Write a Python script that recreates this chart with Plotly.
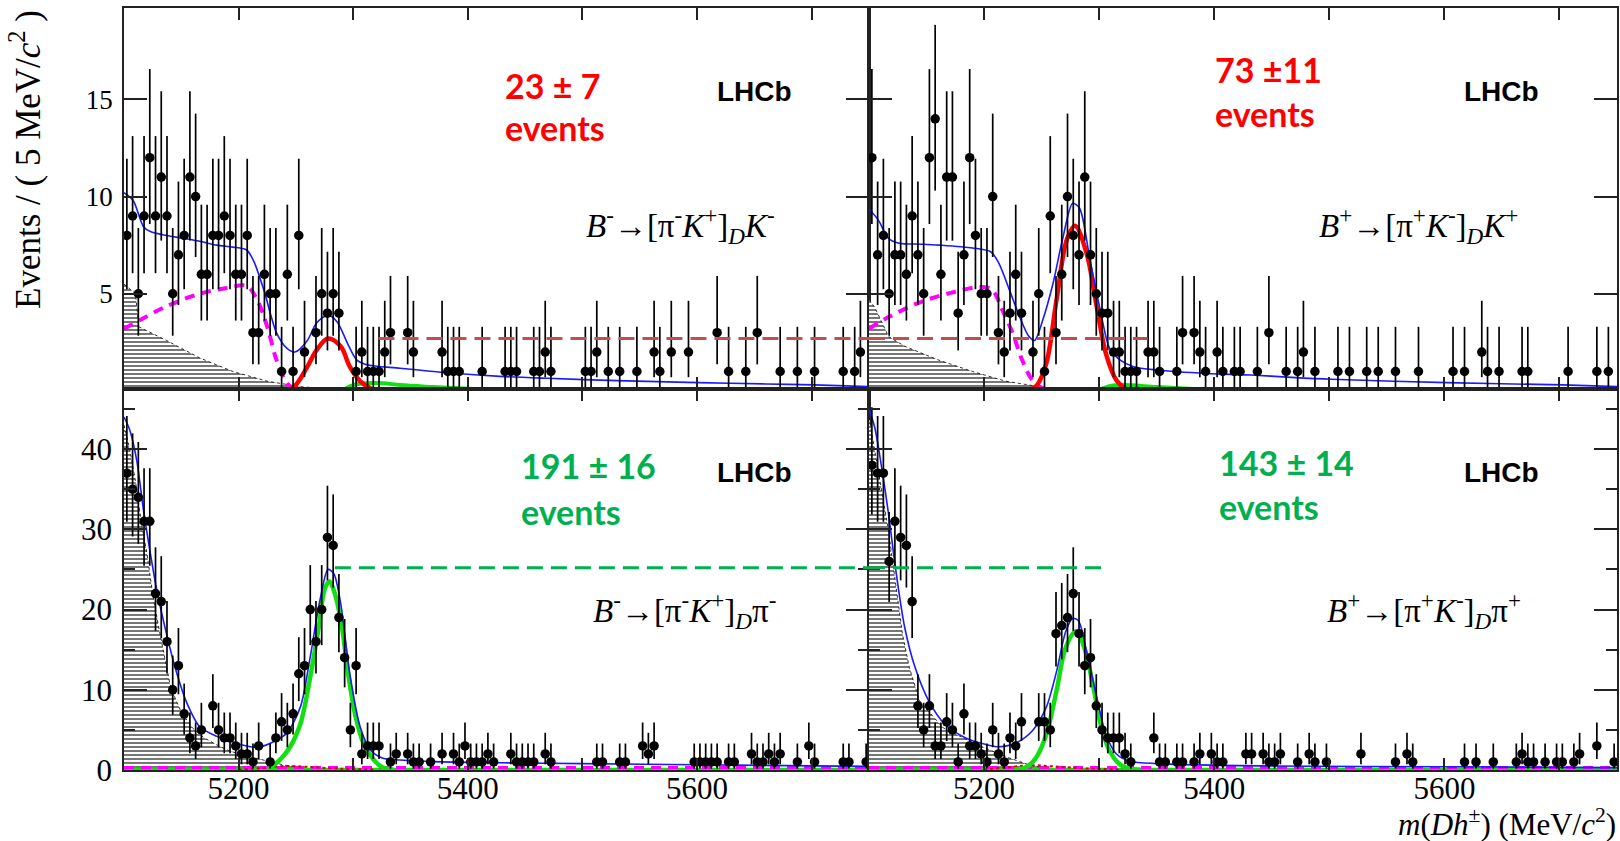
import math
import plotly.graph_objects as go

# ---------------- data ----------------
BIN_LO, BIN_W, NBINS = 5100.0, 5.0, 130

# counts per 5 MeV bin, bins 0..129 (5100-5750 MeV)
counts_TL = [8, 9, 5, 9, 12, 9, 11, 9, 5, 7,
             8, 11, 10, 6, 6, 8, 8, 9, 8, 6,
             6, 8, 3, 3, 6, 5, 5, 1, 6, 1,
             8, 2, 0, 3, 5, 4, 5, 4, 0, 0,
             1, 2, 1, 1, 1, 2, 3, 0, 0, 3,
             2, 0, 0, 0, 0, 2, 1, 1, 1, 0,
             0, 0, 1, 0, 0, 0, 1, 1, 1, 0,
             0, 1, 1, 2, 1, 0, 0, 0, 0, 0,
             1, 1, 2, 0, 1, 0, 1, 0, 0, 1,
             0, 0, 2, 1, 0, 2, 0, 0, 2, 0,
             0, 0, 0, 3, 0, 1, 0, 0, 1, 0,
             3, 0, 0, 0, 1, 0, 0, 1, 0, 0,
             1, 0, 0, 0, 0, 1, 0, 1, 2, 0]
counts_TR = [12, 7, 8, 5, 7, 7, 6, 9, 7, 5,
             12, 14, 6, 11, 11, 4, 7, 12, 8, 5,
             5, 10, 3, 2, 4, 6, 4, 0, 2, 5,
             1, 9, 3, 6, 10, 8, 7, 11, 7, 5,
             4, 4, 2, 2, 1, 1, 1, 0, 2, 2,
             1, 0, 0, 1, 3, 0, 3, 2, 1, 0,
             2, 1, 0, 1, 1, 0, 0, 1, 0, 3,
             0, 0, 1, 0, 1, 2, 0, 1, 0, 0,
             0, 1, 0, 1, 0, 0, 1, 0, 1, 0,
             0, 1, 0, 0, 0, 1, 0, 0, 0, 0,
             0, 1, 0, 1, 0, 0, 2, 1, 0, 1,
             0, 0, 0, 1, 1, 0, 0, 0, 0, 0,
             0, 1, 0, 0, 0, 0, 1, 0, 1, 0]
counts_BL = [37, 35, 34, 31, 31, 22, 21, 16, 10, 13,
             7, 4, 3, 5, 0, 8, 5, 4, 4, 3,
             2, 2, 1, 3, 0, 1, 4, 6, 5, 7,
             12, 13, 20, 16, 20, 29, 28, 19, 14, 5,
             13, 2, 3, 3, 3, 0, 1, 2, 0, 2,
             1, 1, 0, 1, 0, 2, 0, 2, 1, 3,
             1, 1, 1, 2, 1, 0, 0, 2, 1, 1,
             1, 1, 0, 2, 1, 0, 0, 0, 0, 0,
             0, 0, 1, 1, 0, 0, 1, 1, 0, 0,
             3, 2, 3, 0, 0, 0, 0, 0, 0, 1,
             1, 1, 1, 1, 0, 1, 1, 0, 0, 2,
             1, 1, 2, 1, 2, 0, 0, 1, 0, 3,
             1, 0, 0, 0, 0, 1, 1, 0, 0, 1]
counts_BR = [38, 37, 37, 26, 31, 29, 28, 21, 8, 5,
             8, 3, 3, 6, 5, 1, 7, 3, 3, 2,
             1, 5, 2, 1, 4, 3, 6, 0, 0, 6,
             6, 5, 17, 18, 19, 22, 17, 13, 14, 8,
             5, 4, 4, 4, 2, 1, 0, 0, 0, 4,
             1, 1, 0, 1, 1, 0, 1, 2, 0, 2,
             1, 1, 0, 0, 0, 2, 2, 0, 2, 1,
             1, 2, 0, 0, 1, 0, 2, 1, 0, 1,
             0, 0, 0, 0, 0, 2, 0, 0, 0, 0,
             0, 1, 0, 2, 1, 0, 0, 0, 0, 0,
             0, 0, 0, 1, 0, 1, 0, 0, 1, 0,
             0, 0, 1, 2, 1, 1, 0, 1, 0, 1,
             1, 0, 1, 2, 0, 0, 3, 0, 0, 1]

# fit components (mass MeV, events/bin)
tot_TL_m = [5100, 5108, 5117, 5123, 5137, 5152, 5166, 5181, 5195, 5207, 5213, 5222, 5233, 5242, 5249,
            5260, 5268, 5278, 5286, 5295, 5303, 5312, 5341, 5385, 5428, 5469, 5530, 5601, 5660, 5702, 5750]
tot_TL_v = [10.2, 9.8, 8.45, 8.2, 8.0, 7.85, 7.7, 7.5, 7.4, 7.25, 6.7, 5.2, 3.0, 2.2, 2.0,
            2.6, 3.5, 3.9, 3.55, 2.45, 1.6, 1.35, 1.17, 0.92, 0.75, 0.65, 0.53, 0.43, 0.36, 0.31, 0.22]
tot_TR_m = [5100, 5108, 5117, 5126, 5146, 5161, 5190, 5206, 5213, 5222, 5231, 5239, 5244, 5251, 5260,
            5268, 5277, 5283, 5292, 5301, 5309, 5318, 5330, 5350, 5394, 5432, 5467, 5502, 5602, 5703, 5750]
tot_TR_v = [9.35, 8.8, 7.85, 7.6, 7.55, 7.5, 7.35, 7.15, 6.55, 5.2, 3.8, 2.8, 2.6, 3.65, 5.55,
            7.75, 9.65, 9.4, 6.75, 4.15, 2.2, 1.6, 1.25, 1.08, 0.9, 0.82, 0.7, 0.6, 0.43, 0.31, 0.22]
tot_BL_m = [5100, 5105, 5111, 5117, 5123, 5128, 5137, 5146, 5155, 5166, 5181, 5195, 5210, 5219, 5230, 5242,
            5254, 5262, 5271, 5278, 5283, 5289, 5297, 5306, 5315, 5326, 5341, 5370, 5428, 5500, 5600, 5750]
tot_BL_v = [44, 42.4, 38.7, 32.4, 27, 22.9, 17, 12.1, 8.3, 5.4, 4.2, 3.5, 2.9, 2.9, 3.5, 4.6,
            7.9, 13.7, 21.2, 25, 24.5, 20.8, 12, 5.4, 2.5, 1.46, 1.25, 1.04, 0.9, 0.8, 0.65, 0.45]
tot_BR_m = [5100, 5105, 5111, 5117, 5123, 5131, 5140, 5152, 5166, 5184, 5201, 5213, 5228, 5242, 5254,
            5263, 5271, 5277, 5282, 5289, 5298, 5306, 5315, 5327, 5350, 5452, 5600, 5750]
tot_BR_v = [45, 42.7, 37.7, 31.9, 25.2, 17.8, 12.8, 8.6, 5.7, 4.0, 3.2, 2.9, 3.4, 4.9, 7.8,
            12.3, 17.3, 18.9, 18.6, 14.8, 9.0, 4.4, 2.0, 1.1, 0.8, 0.5, 0.4, 0.3]

sig_TL_m = [5238, 5248, 5260, 5268, 5278, 5289, 5297, 5306, 5315, 5324]
sig_TL_v = [0.0, 0.2, 1.25, 2.1, 2.7, 2.3, 1.25, 0.5, 0.14, 0.0]
sig_TR_m = [5238, 5246, 5254, 5263, 5272, 5279, 5289, 5298, 5306, 5315, 5324]
sig_TR_v = [0.0, 0.3, 1.4, 4.7, 7.8, 8.5, 7.1, 4.3, 1.9, 0.55, 0.05]
sig_BL_m = [5225, 5236, 5245, 5254, 5262, 5270, 5275, 5279, 5284, 5290, 5296, 5302, 5309, 5318, 5326, 5335]
sig_BL_v = [0.1, 1.25, 2.9, 5.8, 11.2, 17.9, 22.5, 23.5, 22, 17.9, 11.6, 6.7, 3.3, 1.25, 0.3, 0.05]
sig_BR_m = [5226, 5236, 5245, 5254, 5263, 5271, 5280, 5287, 5295, 5302, 5309, 5318, 5327, 5336]
sig_BR_v = [0.05, 0.3, 1.5, 4.4, 9.9, 15.3, 17.3, 15.3, 10.3, 5.3, 2.4, 0.7, 0.15, 0.03]

dk_TL_m = [5290, 5300, 5312, 5326, 5341, 5370, 5405]       # small green component (top)
dk_TL_v = [0.0, 0.3, 0.4, 0.4, 0.3, 0.2, 0.1]
dk_TR_m = [5300, 5310, 5321, 5350, 5382]
dk_TR_v = [0.05, 0.25, 0.3, 0.2, 0.1]

pr_TL_m = [5100, 5114, 5137, 5166, 5190, 5207, 5216, 5225, 5233, 5242, 5248, 5262]   # magenta dashed
pr_TL_v = [3.2, 3.65, 4.35, 5.0, 5.3, 5.4, 4.7, 3.3, 1.6, 0.4, 0.14, 0.05]
pr_TR_m = [5100, 5117, 5146, 5175, 5198, 5207, 5216, 5225, 5233, 5242, 5251, 5260]
pr_TR_v = [3.2, 3.8, 4.6, 5.1, 5.35, 5.2, 4.15, 2.95, 1.6, 0.55, 0.14, 0.08]

ph_TL_m = [5100, 5110, 5113, 5137, 5166, 5195, 5225, 5254, 5283, 5300]  # hatched component
ph_TL_v = [5.5, 5.0, 3.3, 2.6, 1.7, 1.0, 0.5, 0.22, 0.09, 0.05]
ph_TR_m = [5100, 5105, 5117, 5131, 5160, 5190, 5219, 5248, 5270]
ph_TR_v = [4.7, 4.3, 2.8, 2.3, 1.6, 1.0, 0.5, 0.22, 0.08]
ph_BL_m = [5100, 5105, 5110, 5115, 5120, 5125, 5130, 5135, 5140, 5145, 5150, 5160, 5170, 5180, 5190,
           5200, 5220, 5240, 5260, 5280]
ph_BL_v = [43, 40, 36, 31, 27, 22, 18, 14.5, 10.8, 8.8, 7.2, 5.2, 4.0, 3.2, 2.5, 2.0, 1.3, 0.6, 0.2, 0.05]
ph_BR_m = [5100, 5105, 5111, 5117, 5123, 5129, 5135, 5144, 5164, 5193, 5222, 5240, 5260]
ph_BR_v = [44, 40, 34.8, 29.8, 23.6, 17, 12.8, 8.6, 5.3, 3.2, 1.5, 0.6, 0.1]

red_B_m = [5200, 5225, 5240, 5260, 5290, 5320]
red_BL_v = [0.05, 0.3, 0.5, 0.4, 0.15, 0.05]
red_BR_v = [0.05, 0.4, 0.6, 0.45, 0.2, 0.05]
flat_m = [5100, 5750]
flat_mag_v = [0.3, 0.3]
flat_grn_v = [0.08, 0.08]

# reference dashed levels
ref_K_level = 2.7
ref_K_left = (5322, 5750)    # in left panel
ref_K_right = (5100, 5342)   # in right panel
ref_pi_level = 25.2
ref_pi_left = (5284, 5750)
ref_pi_right = (5100, 5307)

yields = ["23 ± 7", "73 ±11", "191 ± 16", "143 ± 14"]
decays = ["<i>B</i><sup>-</sup>→[π<sup>-</sup><i>K</i><sup>+</sup>]<sub><i>D</i></sub><i>K</i><sup>-</sup>",
          "<i>B</i><sup>+</sup>→[π<sup>+</sup><i>K</i><sup>-</sup>]<sub><i>D</i></sub><i>K</i><sup>+</sup>",
          "<i>B</i><sup>-</sup>→[π<sup>-</sup><i>K</i><sup>+</sup>]<sub><i>D</i></sub>π<sup>-</sup>",
          "<i>B</i><sup>+</sup>→[π<sup>+</sup><i>K</i><sup>-</sup>]<sub><i>D</i></sub>π<sup>+</sup>"]

# ---------------- helpers ----------------
CL = 0.158655


def pcdf(n, mu):
    s, term = 0.0, math.exp(-mu)
    for i in range(n + 1):
        if i > 0:
            term *= mu / i
        s += term
    return s


def bisect(f, lo, hi):
    for _ in range(80):
        mid = 0.5 * (lo + hi)
        if f(mid) > 0:
            lo = mid
        else:
            hi = mid
    return 0.5 * (lo + hi)


def garwood(n):
    up = bisect(lambda mu: pcdf(n, mu) - CL, n, n + 20 + 6 * math.sqrt(n + 1))
    lo = 0.0 if n == 0 else bisect(lambda mu: pcdf(n - 1, mu) - (1 - CL), 0.0, n)
    return n - lo, up - n


W, H = 1620, 841
PX = lambda p: p / W
PY = lambda p: 1 - p / H

fig = go.Figure()
SERIF = "Liberation Serif"

panels = [
    dict(xa="x", ya="y", counts=counts_TL, tot=(tot_TL_m, tot_TL_v), sig=(sig_TL_m, sig_TL_v, "#FF0000"),
         ph=(ph_TL_m, ph_TL_v), pr=(pr_TL_m, pr_TL_v), dk=(dk_TL_m, dk_TL_v)),
    dict(xa="x2", ya="y2", counts=counts_TR, tot=(tot_TR_m, tot_TR_v), sig=(sig_TR_m, sig_TR_v, "#FF0000"),
         ph=(ph_TR_m, ph_TR_v), pr=(pr_TR_m, pr_TR_v), dk=(dk_TR_m, dk_TR_v)),
    dict(xa="x3", ya="y3", counts=counts_BL, tot=(tot_BL_m, tot_BL_v), sig=(sig_BL_m, sig_BL_v, "#10E010"),
         ph=(ph_BL_m, ph_BL_v), red=(red_B_m, red_BL_v)),
    dict(xa="x4", ya="y4", counts=counts_BR, tot=(tot_BR_m, tot_BR_v), sig=(sig_BR_m, sig_BR_v, "#10E010"),
         ph=(ph_BR_m, ph_BR_v), red=(red_B_m, red_BR_v)),
]

for p in panels:
    xa, ya = p["xa"], p["ya"]
    common = dict(xaxis=xa, yaxis=ya, showlegend=False, hoverinfo="skip")
    # hatched component
    fig.add_trace(go.Scatter(x=p["ph"][0], y=p["ph"][1], mode="lines", fill="tozeroy",
                             line=dict(color="black", width=0.8, dash="dot"),
                             fillcolor="rgba(255,255,255,0)",
                             fillpattern=dict(shape="-", fgcolor="#1a1a1a", bgcolor="white", size=4, solidity=0.3),
                             **common))
    if "pr" in p:
        fig.add_trace(go.Scatter(x=p["pr"][0], y=p["pr"][1], mode="lines", line_shape="spline",
                                 line=dict(color="#FF00FF", width=4, dash="10px,7px"), **common))
        fig.add_trace(go.Scatter(x=p["dk"][0], y=p["dk"][1], mode="lines", line_shape="spline",
                                 line=dict(color="#10E010", width=4), **common))
    else:
        fig.add_trace(go.Scatter(x=flat_m, y=flat_grn_v, mode="lines",
                                 line=dict(color="#10E010", width=3), **common))
        fig.add_trace(go.Scatter(x=flat_m, y=flat_mag_v, mode="lines",
                                 line=dict(color="#FF00FF", width=3, dash="10px,7px"), **common))
        fig.add_trace(go.Scatter(x=p["red"][0], y=p["red"][1], mode="lines", line_shape="spline",
                                 line=dict(color="#E00000", width=2, dash="dot"), **common))
    sm, sv, sc = p["sig"]
    fig.add_trace(go.Scatter(x=sm, y=sv, mode="lines", line_shape="spline",
                             line=dict(color=sc, width=4.5), **common))
    fig.add_trace(go.Scatter(x=p["tot"][0], y=p["tot"][1], mode="lines", line_shape="spline",
                             line=dict(color="#1a1aff", width=1.6, smoothing=0.8), **common))
    # data points
    xs, ys, em, ep = [], [], [], []
    for k, n in enumerate(p["counts"]):
        if n <= 0:
            continue
        lo, up = garwood(n)
        xs.append(BIN_LO + BIN_W * (k + 0.5))
        ys.append(n)
        em.append(lo)
        ep.append(up)
    fig.add_trace(go.Scatter(x=xs, y=ys, mode="markers",
                             marker=dict(color="black", size=9.5),
                             error_y=dict(type="data", array=ep, arrayminus=em, symmetric=False,
                                          color="black", thickness=1.7, width=0),
                             **common))

# reference dashed lines
dash_K = dict(color="#C0504D", width=3, dash="16px,8px")
dash_pi = dict(color="#00B050", width=3, dash="16px,8px")
fig.add_shape(type="line", xref="x", yref="y", x0=ref_K_left[0], x1=ref_K_left[1],
              y0=ref_K_level, y1=ref_K_level, line=dash_K)
fig.add_shape(type="line", xref="x2", yref="y2", x0=ref_K_right[0], x1=ref_K_right[1],
              y0=ref_K_level, y1=ref_K_level, line=dash_K)
fig.add_shape(type="line", xref="x3", yref="y3", x0=ref_pi_left[0], x1=ref_pi_left[1],
              y0=ref_pi_level, y1=ref_pi_level, line=dash_pi)
fig.add_shape(type="line", xref="x4", yref="y4", x0=ref_pi_right[0], x1=ref_pi_right[1],
              y0=ref_pi_level, y1=ref_pi_level, line=dash_pi)

# ---------------- axes ----------------
xdom_L = [PX(124), PX(869)]
xdom_R = [PX(869), PX(1617)]
ydom_T = [PY(389), PY(8)]
ydom_B = [PY(770), PY(389)]

xticks = [5100, 5200, 5300, 5400, 5500, 5600, 5700]
xtext = ["", "5200", "", "5400", "", "5600", ""]


def xax(domain, anchor, labels):
    return dict(domain=domain, anchor=anchor, range=[5100, 5750], showline=True, linecolor="#222",
                linewidth=1.6, mirror="ticks", ticks="inside", ticklen=12, tickwidth=1.5, tickcolor="#222",
                tickvals=xticks, ticktext=xtext, showticklabels=labels, showgrid=False, zeroline=False,
                automargin=False,
                tickfont=dict(family=SERIF, size=31, color="black"), ticklabelstandoff=-10)


def yax(domain, anchor, rng, vals, labels, size, minor=None):
    d = dict(domain=domain, anchor=anchor, range=rng, showline=True, linecolor="#222", linewidth=1.6,
             mirror="ticks", ticks="inside", ticklen=23, tickwidth=1.5, tickcolor="#222",
             tickvals=vals, showticklabels=labels, showgrid=False, zeroline=False, automargin=False,
             tickfont=dict(family=SERIF, size=size, color="black"), ticklabelstandoff=4)
    if minor:
        d["minor"] = dict(tickvals=minor, ticks="inside", ticklen=11, tickwidth=1.5, tickcolor="#222",
                          showgrid=False)
    return d


top_rng = [0.1, 19.7]
bot_rng = [0, 47.5]
fig.update_layout(
    template="none",
    width=W, height=H, margin=dict(l=0, r=0, t=0, b=0, autoexpand=False),
    paper_bgcolor="white", plot_bgcolor="white",
    xaxis=xax(xdom_L, "y", False), yaxis=yax(ydom_T, "x", top_rng, [5, 10, 15], True, 27),
    xaxis2=xax(xdom_R, "y2", False), yaxis2=yax(ydom_T, "x2", top_rng, [5, 10, 15], False, 27),
    xaxis3=xax(xdom_L, "y3", True),
    yaxis3=yax(ydom_B, "x3", bot_rng, [0, 10, 20, 30, 40], True, 31, minor=[5, 15, 25, 35, 45]),
    xaxis4=xax(xdom_R, "y4", True),
    yaxis4=yax(ydom_B, "x4", bot_rng, [0, 10, 20, 30, 40], False, 31, minor=[5, 15, 25, 35, 45]),
)

# ---------------- text ----------------
ann = []
ann.append(dict(text="Events / ( 5 MeV/<i>c</i><sup>2</sup> )", x=PX(25), y=PY(160), textangle=-90,
                xanchor="center", font=dict(family=SERIF, size=35, color="black")))
ann.append(dict(text="<i>m</i>(<i>Dh</i><sup>±</sup>) (MeV/<i>c</i><sup>2</sup>)", x=PX(1618), y=PY(844),
                xanchor="right", yanchor="bottom", font=dict(family=SERIF, size=31, color="black")))
RED, GRN = "#FF0000", "#00B050"
yl = [(503, 85, 128, RED), (1213, 69, 114, RED), (519, 466, 511, GRN), (1217, 462, 507, GRN)]
for (x0, y1, y2, c), t in zip(yl, yields):
    ann.append(dict(text=t, x=PX(x0), y=PY(y1), xanchor="left",
                    font=dict(family="Lato", size=34, color=c, weight="bold")))
    ann.append(dict(text="events", x=PX(x0), y=PY(y2), xanchor="left",
                    font=dict(family="Lato", size=34, color=c, weight="bold")))
for x0, y0 in [(715, 91), (1462, 91), (715, 472), (1462, 472)]:
    ann.append(dict(text="<b>LHCb</b>", x=PX(x0), y=PY(y0), xanchor="left",
                    font=dict(family="Liberation Sans", size=28, color="black")))
for (x0, y0), t in zip([(584, 226), (1317, 226), (591, 610), (1325, 610)], decays):
    ann.append(dict(text=t, x=PX(x0), y=PY(y0), xanchor="left",
                    font=dict(family=SERIF, size=33, color="black")))
for a in ann:
    a.update(xref="paper", yref="paper", showarrow=False)
    a.setdefault("yanchor", "middle")
fig.update_layout(annotations=ann)

fig.write_html("out.html")
